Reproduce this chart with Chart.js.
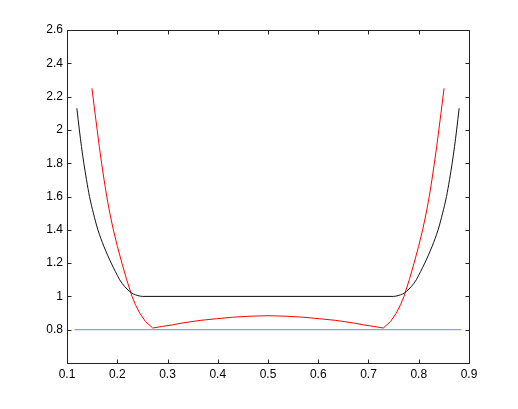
<!DOCTYPE html>
<html>
<head>
<meta charset="utf-8">
<script src="https://cdn.jsdelivr.net/npm/chart.js@4.4.0/dist/chart.umd.min.js"></script>
<style>
  html, body { margin: 0; padding: 0; background: #fff; }
  #wrap { width: 518px; height: 409px; }
</style>
</head>
<body>
<div id="wrap"><canvas id="plot" width="518" height="409"></canvas></div>
<script>
// values
var xTicks = [0.1, 0.2, 0.3, 0.4, 0.5, 0.6, 0.7, 0.8, 0.9];
var yTicks = [0.8, 1, 1.2, 1.4, 1.6, 1.8, 2, 2.2, 2.4, 2.6];

var blackX = [0.1196, 0.1246, 0.1288, 0.1335, 0.1388, 0.1448, 0.1525, 0.1615, 0.1735, 0.188,
              0.1962, 0.2048, 0.2145, 0.2245, 0.232, 0.241, 0.25,
              0.75, 0.759, 0.768, 0.7755, 0.7855, 0.7952, 0.8038, 0.812, 0.8265, 0.8385,
              0.8475, 0.8552, 0.8612, 0.8665, 0.8712, 0.8754, 0.8804];
var blackY = [2.13, 2.0, 1.9, 1.8, 1.7, 1.6, 1.5, 1.4, 1.3, 1.2,
              1.15, 1.1, 1.06, 1.03, 1.015, 1.005, 1.0,
              1.0, 1.005, 1.015, 1.03, 1.06, 1.1, 1.15, 1.2, 1.3, 1.4,
              1.5, 1.6, 1.7, 1.8, 1.9, 2.0, 2.13];

var redX = [0.1496, 0.1558, 0.16, 0.1643, 0.1689, 0.1738, 0.1791, 0.1852, 0.1922, 0.2003,
            0.2093, 0.2188, 0.2294, 0.2362, 0.2447, 0.256, 0.2705,
            0.29, 0.31, 0.331, 0.365, 0.398, 0.43, 0.464, 0.5,
            0.536, 0.57, 0.602, 0.635, 0.669, 0.69, 0.71,
            0.7295, 0.744, 0.7553, 0.7638, 0.7706, 0.7812, 0.7907, 0.7997, 0.8078,
            0.8148, 0.8209, 0.8262, 0.8311, 0.8357, 0.84, 0.8442, 0.8504];
var redY = [2.25, 2.1, 2.0, 1.9, 1.8, 1.7, 1.6, 1.5, 1.4, 1.3,
            1.2, 1.1, 1.0, 0.95, 0.9, 0.85, 0.81,
            0.82, 0.829, 0.841, 0.856, 0.866, 0.875, 0.881, 0.884,
            0.881, 0.875, 0.866, 0.856, 0.841, 0.829, 0.82,
            0.81, 0.85, 0.9, 0.95, 1.0, 1.1, 1.2, 1.3, 1.4,
            1.5, 1.6, 1.7, 1.8, 1.9, 2.0, 2.1, 2.25];

var blueX = [0.115, 0.885];
var blueY = [0.8, 0.8];

function pts(xs, ys) {
    return xs.map(function (x, i) { return { x: x, y: ys[i] }; });
}

function fmt(v) {
    return String(parseFloat(Number(v).toFixed(1)));
}

// box round the plot with inward ticks on all four sides
var frame = {
    id: 'frame',
    afterDraw: function (chart) {
        var ctx = chart.ctx;
        var a = chart.chartArea;
        var xs = chart.scales.x, ys = chart.scales.y;
        var len = 4;
        ctx.save();
        ctx.strokeStyle = '#222';
        ctx.lineWidth = 1;
        ctx.beginPath();
        var l = Math.round(a.left) + 0.5, r = Math.round(a.right) + 0.5;
        var t = Math.round(a.top) + 0.5, b = Math.round(a.bottom) + 0.5;
        ctx.rect(l, t, r - l, b - t);
        xTicks.forEach(function (v) {
            var px = Math.round(xs.getPixelForValue(v)) + 0.5;
            ctx.moveTo(px, b); ctx.lineTo(px, b - len);
            ctx.moveTo(px, t); ctx.lineTo(px, t + len);
        });
        [0.6].concat(yTicks).forEach(function (v) {
            var py = Math.round(ys.getPixelForValue(v)) + 0.5;
            ctx.moveTo(l, py); ctx.lineTo(l + len, py);
            ctx.moveTo(r, py); ctx.lineTo(r - len, py);
        });
        ctx.stroke();
        ctx.restore();
    }
};

var ctx = document.getElementById('plot').getContext('2d');
var chart = new Chart(ctx, {
    type: 'line',
    data: {
        datasets: [{
            data: pts(blueX, blueY),
            borderColor: 'rgb(115, 130, 250)',
            borderWidth: 1,
            pointRadius: 0,
            tension: 0
        }, {
            data: pts(blackX, blackY),
            borderColor: '#111',
            borderWidth: 1,
            pointRadius: 0,
            cubicInterpolationMode: 'monotone'
        }, {
            data: pts(redX, redY),
            borderColor: '#ff0000',
            borderWidth: 1,
            pointRadius: 0,
            tension: 0
        }]
    },
    options: {
        responsive: false,
        animation: false,
        layout: { padding: { left: 0, right: 49, top: 30, bottom: 0 } },
        plugins: { legend: { display: false }, tooltip: { enabled: false } },
        scales: {
            x: {
                type: 'linear',
                min: 0.1,
                max: 0.9,
                grid: { display: false, drawTicks: false },
                border: { display: false },
                afterFit: function (s) { s.height = 46; },
                afterBuildTicks: function (s) { s.ticks = xTicks.map(function (v) { return { value: v }; }); },
                ticks: {
                    padding: 4,
                    color: '#000',
                    font: { family: 'Liberation Sans', size: 12 },
                    maxRotation: 0,
                    callback: fmt
                }
            },
            y: {
                type: 'linear',
                min: 0.6,
                max: 2.6,
                grid: { display: false, drawTicks: false },
                border: { display: false },
                afterFit: function (s) { s.width = 67; },
                afterBuildTicks: function (s) { s.ticks = yTicks.map(function (v) { return { value: v }; }); },
                ticks: {
                    padding: 4,
                    color: '#000',
                    font: { family: 'Liberation Sans', size: 12 },
                    callback: fmt
                }
            }
        }
    },
    plugins: [frame]
});
</script>
</body>
</html>
